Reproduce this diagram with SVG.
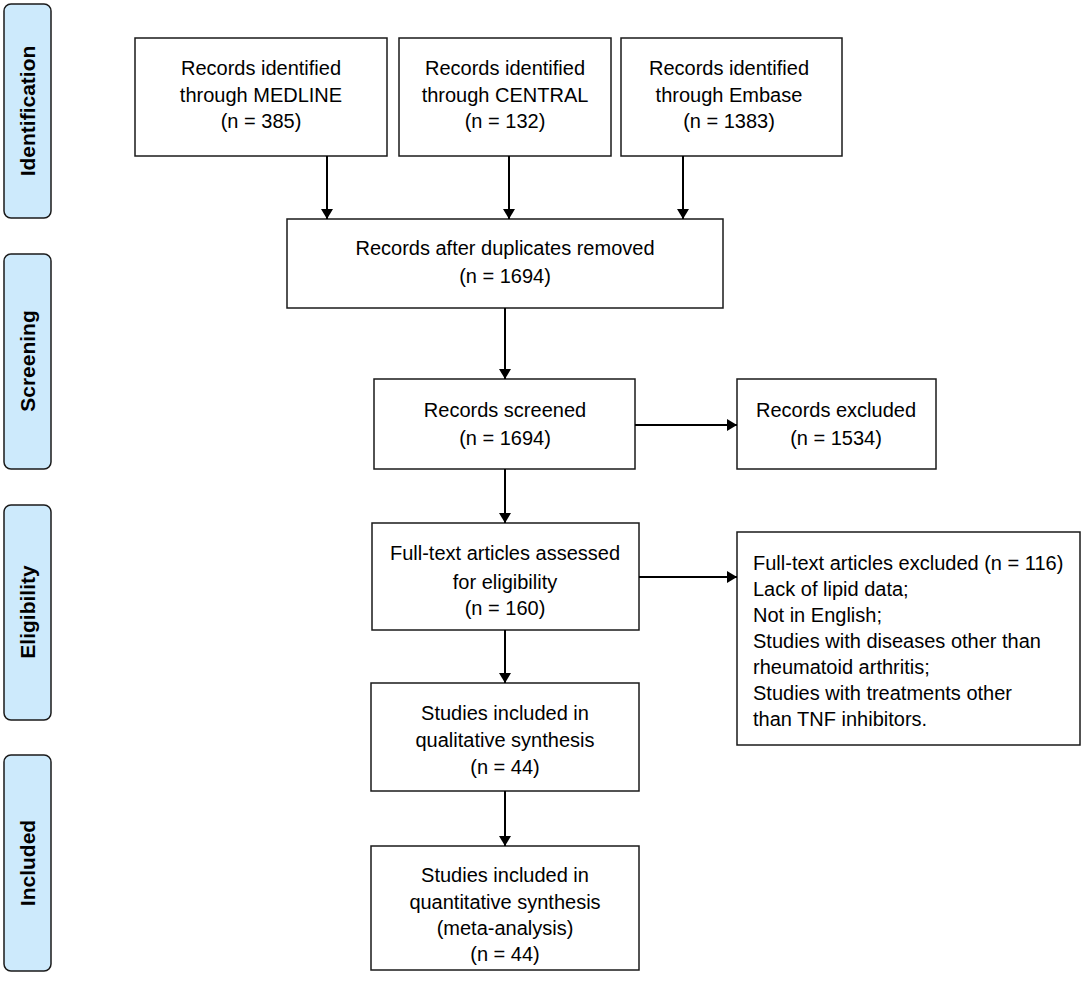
<svg xmlns="http://www.w3.org/2000/svg" width="1084" height="993" viewBox="0 0 1084 993">
<style>
.bg{fill:#ffffff}
.phase{fill:#cdeafc;stroke:#1a1a1a;stroke-width:1.5}
.box{fill:#ffffff;stroke:#1a1a1a;stroke-width:1.5}
.t{font-family:"Liberation Sans",Arial,sans-serif;font-size:20px;fill:#000;text-anchor:middle}
.tl{font-family:"Liberation Sans",Arial,sans-serif;font-size:20px;fill:#000;text-anchor:start}
.pt{font-family:"Liberation Sans",Arial,sans-serif;font-size:21px;font-weight:bold;fill:#000;text-anchor:middle}
.arr{stroke:#000;stroke-width:2;fill:none;marker-end:url(#ah)}
</style>
<defs>
<marker id="ah" markerUnits="userSpaceOnUse" markerWidth="12" markerHeight="12" viewBox="0 0 10 12" refX="10" refY="6" orient="auto">
<path d="M0,0 L10,6 L0,12 z" fill="#000"/>
</marker>
</defs>
<rect class="bg" x="0" y="0" width="1084" height="993"/>

<g id="phase-identification">
<rect class="phase" x="4" y="4" width="47" height="214" rx="7"/>
<text class="pt" transform="translate(35,111) rotate(-90)">Identification</text>
</g>
<g id="phase-screening">
<rect class="phase" x="4" y="254" width="47" height="215" rx="7"/>
<text class="pt" transform="translate(35,361) rotate(-90)">Screening</text>
</g>
<g id="phase-eligibility">
<rect class="phase" x="4" y="505" width="47" height="215" rx="7"/>
<text class="pt" transform="translate(35,612) rotate(-90)">Eligibility</text>
</g>
<g id="phase-included">
<rect class="phase" x="4" y="755" width="47" height="216" rx="7"/>
<text class="pt" transform="translate(35,863) rotate(-90)">Included</text>
</g>

<g id="medline">
<rect class="box" x="135" y="38" width="252" height="118"/>
<text class="t" x="261" y="75">Records identified</text>
<text class="t" x="261" y="102">through MEDLINE</text>
<text class="t" x="261" y="128">(n = 385)</text>
</g>
<g id="central">
<rect class="box" x="399" y="38" width="212" height="118"/>
<text class="t" x="505" y="75">Records identified</text>
<text class="t" x="505" y="102">through CENTRAL</text>
<text class="t" x="505" y="128">(n = 132)</text>
</g>
<g id="embase">
<rect class="box" x="621" y="38" width="221" height="118"/>
<text class="t" x="729" y="75">Records identified</text>
<text class="t" x="729" y="102">through Embase</text>
<text class="t" x="729" y="128">(n = 1383)</text>
</g>
<g id="duplicates">
<rect class="box" x="287" y="219" width="436" height="89"/>
<text class="t" x="505" y="255">Records after duplicates removed</text>
<text class="t" x="505" y="283">(n = 1694)</text>
</g>
<g id="screened">
<rect class="box" x="374" y="379" width="261" height="90"/>
<text class="t" x="505" y="417">Records screened</text>
<text class="t" x="505" y="445">(n = 1694)</text>
</g>
<g id="excluded">
<rect class="box" x="737" y="379" width="199" height="90"/>
<text class="t" x="836" y="417">Records excluded</text>
<text class="t" x="836" y="445">(n = 1534)</text>
</g>
<g id="fulltext">
<rect class="box" x="372" y="523" width="267" height="107"/>
<text class="t" x="505" y="560">Full-text articles assessed</text>
<text class="t" x="505" y="589">for eligibility</text>
<text class="t" x="505" y="615">(n = 160)</text>
</g>
<g id="fulltext-excluded">
<rect class="box" x="737" y="532" width="343" height="213"/>
<text class="tl" x="753" y="570">Full-text articles excluded (n = 116)</text>
<text class="tl" x="753" y="596">Lack of lipid data;</text>
<text class="tl" x="753" y="622">Not in English;</text>
<text class="tl" x="753" y="648">Studies with diseases other than</text>
<text class="tl" x="753" y="674">rheumatoid arthritis;</text>
<text class="tl" x="753" y="700">Studies with treatments other</text>
<text class="tl" x="753" y="726">than TNF inhibitors.</text>
</g>
<g id="qualitative">
<rect class="box" x="371" y="683" width="268" height="108"/>
<text class="t" x="505" y="720">Studies included in</text>
<text class="t" x="505" y="747">qualitative synthesis</text>
<text class="t" x="505" y="774">(n = 44)</text>
</g>
<g id="quantitative">
<rect class="box" x="371" y="846" width="268" height="124"/>
<text class="t" x="505" y="882">Studies included in</text>
<text class="t" x="505" y="909">quantitative synthesis</text>
<text class="t" x="505" y="935">(meta-analysis)</text>
<text class="t" x="505" y="961">(n = 44)</text>
</g>

<g id="connectors">
<line class="arr" x1="327" y1="156" x2="327" y2="219"/>
<line class="arr" x1="509" y1="156" x2="509" y2="219"/>
<line class="arr" x1="683" y1="156" x2="683" y2="219"/>
<line class="arr" x1="505" y1="308" x2="505" y2="379"/>
<line class="arr" x1="505" y1="469" x2="505" y2="523"/>
<line class="arr" x1="505" y1="630" x2="505" y2="683"/>
<line class="arr" x1="505" y1="791" x2="505" y2="846"/>
<line class="arr" x1="635" y1="425" x2="737" y2="425"/>
<line class="arr" x1="639" y1="577" x2="737" y2="577"/>
</g>
</svg>
